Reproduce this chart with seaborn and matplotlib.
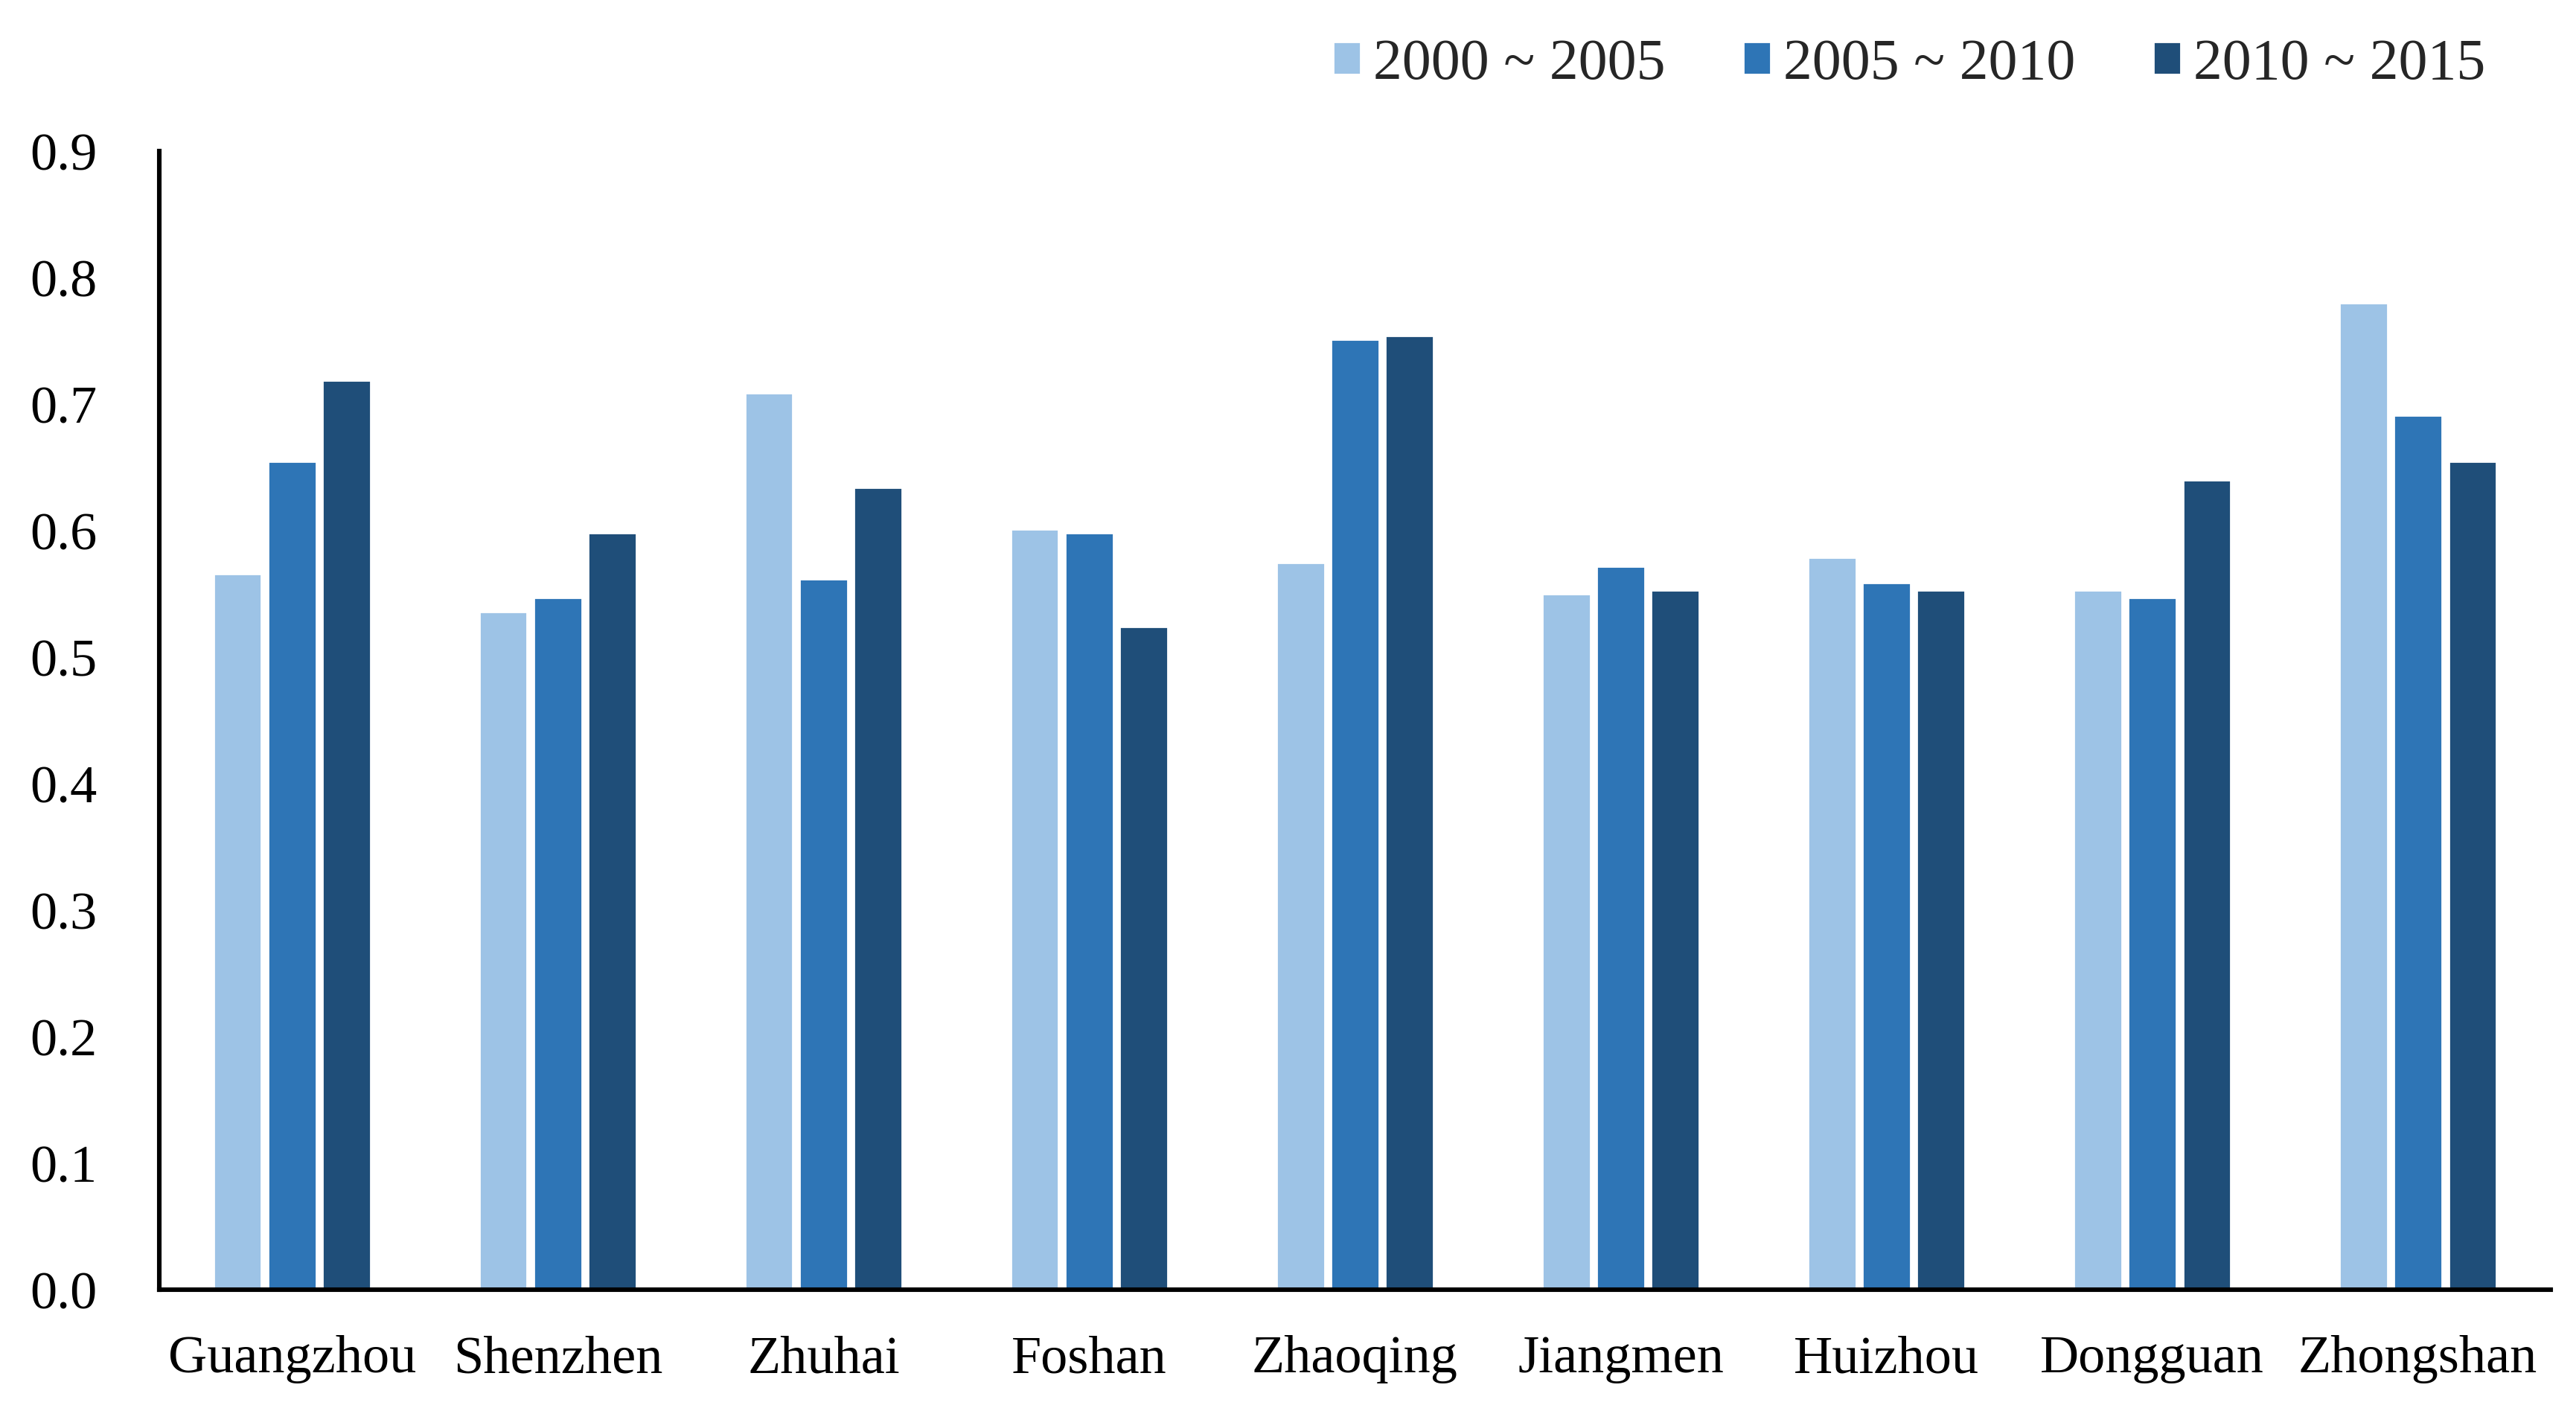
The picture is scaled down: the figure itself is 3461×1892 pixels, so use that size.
import pandas as pd
import matplotlib.pyplot as plt
import seaborn as sns

# ======================================================
# DATA
# ======================================================
cities = ["Guangzhou", "Shenzhen", "Zhuhai", "Foshan", "Zhaoqing",
          "Jiangmen", "Huizhou", "Dongguan", "Zhongshan"]
periods = ["2000 ~ 2005", "2005 ~ 2010", "2010 ~ 2015"]
v_2000_2005 = [0.566, 0.536, 0.709, 0.601, 0.575, 0.550, 0.579, 0.553, 0.780]
v_2005_2010 = [0.655, 0.547, 0.562, 0.598, 0.751, 0.572, 0.559, 0.547, 0.691]
v_2010_2015 = [0.719, 0.598, 0.634, 0.524, 0.754, 0.553, 0.553, 0.640, 0.655]
colors = ["#9DC3E6", "#2E75B6", "#1F4E79"]

df = pd.DataFrame({
    "city": cities * 3,
    "period": [periods[0]] * 9 + [periods[1]] * 9 + [periods[2]] * 9,
    "value": v_2000_2005 + v_2005_2010 + v_2010_2015,
})

# ======================================================
# STYLE
# ======================================================
sns.set_style("white")
plt.rcParams["font.family"] = ["Liberation Serif", "DejaVu Serif"]

fig = plt.figure(figsize=(17.31, 9.46), dpi=200)
ax = fig.add_axes([0.0618, 0.084, 0.9281, 0.8087])

sns.barplot(data=df, x="city", y="value", hue="period", palette=colors,
            width=0.615, gap=0.12, saturation=1, ax=ax)

ax.set_ylim(0, 0.9)
ax.set_yticks([i / 10 for i in range(10)])
ax.set_yticklabels([f"{i / 10:.1f}" for i in range(10)])
ax.set_xlabel("")
ax.set_ylabel("")

for side in ["top", "right"]:
    ax.spines[side].set_visible(False)
for side in ["left", "bottom"]:
    ax.spines[side].set_color("black")
    ax.spines[side].set_linewidth(2.2)

ax.tick_params(axis="y", direction="in", length=6.5, width=2.2,
               pad=30, labelsize=26, colors="black")
ax.tick_params(axis="x", length=0, pad=22, labelsize=26, colors="black")

ax.legend(loc="center", bbox_to_anchor=(0.741, 0.954),
          bbox_transform=fig.transFigure, ncol=3, frameon=False,
          fontsize=28, handlelength=0.47, handleheight=0.5,
          handletextpad=0.22, columnspacing=1.35)

fig.savefig("out.png", dpi=200)
